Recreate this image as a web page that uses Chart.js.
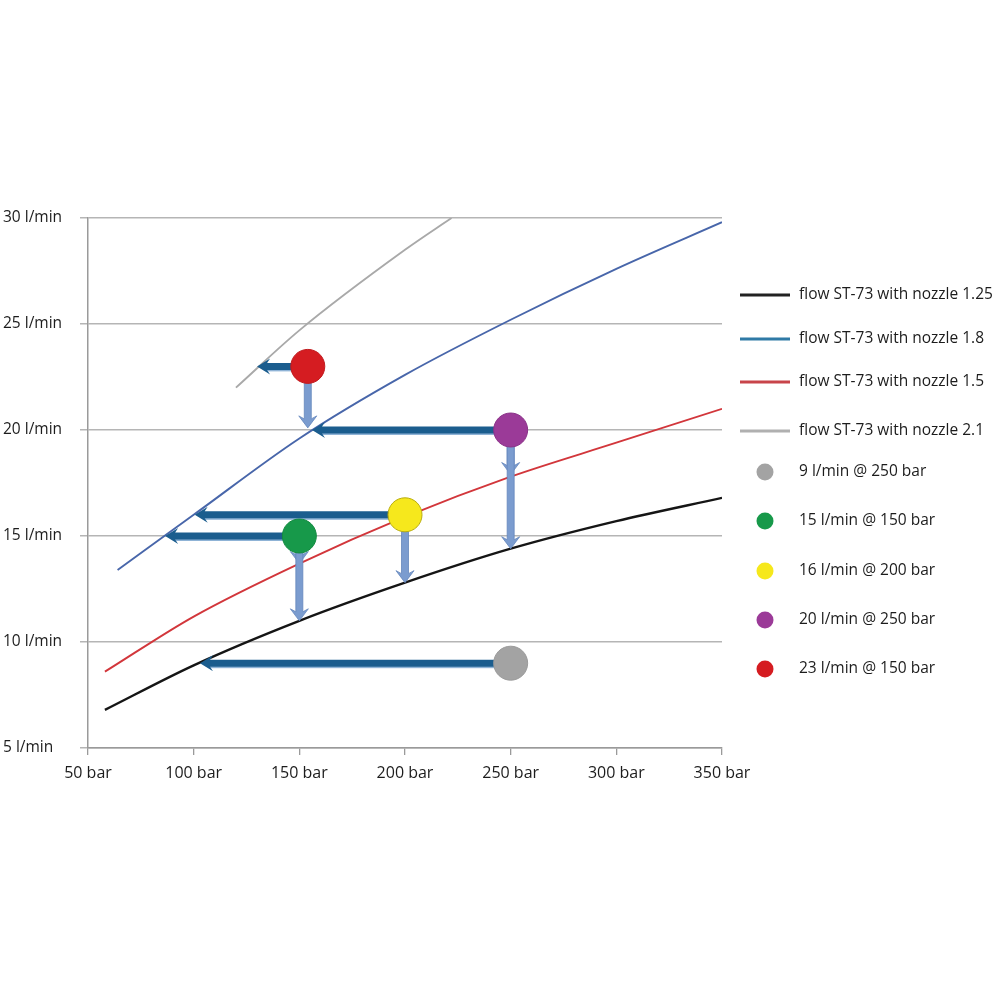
<!DOCTYPE html>
<html>
<head>
<meta charset="utf-8">
<script src="https://cdn.jsdelivr.net/npm/chart.js@4.4.0/dist/chart.umd.min.js"></script>
<style>
html,body{margin:0;padding:0;background:#fff;}
#wrap{width:1000px;height:1000px;}
</style>
</head>
<body>
<div id="wrap"><canvas id="c" width="1000" height="1000"></canvas></div>
<script>
// ---- data ----
const xTicks = [50, 100, 150, 200, 250, 300, 350];
const yTicks = [5, 10, 15, 20, 25, 30];

const nozzle125P = [58, 100, 150, 200, 250, 300, 350];
const nozzle125Q = [6.8, 8.9, 11.0, 12.8, 14.4, 15.7, 16.8];
const nozzle18P  = [64, 100, 150, 200, 250, 300, 350];
const nozzle18Q  = [13.4, 16.0, 19.6, 22.6, 25.2, 27.6, 29.8];
const nozzle15P  = [58, 100, 150, 200, 250, 300, 350];
const nozzle15Q  = [8.6, 11.2, 13.7, 15.9, 17.8, 19.4, 21.0];
const nozzle21P  = [120, 150, 200, 222];
const nozzle21Q  = [22.0, 24.7, 28.5, 30.0];

const pointLabels = ['9 l/min @ 250 bar', '15 l/min @ 150 bar', '16 l/min @ 200 bar', '20 l/min @ 250 bar', '23 l/min @ 150 bar'];
const pointP = [250, 150, 200, 250, 154];
const pointQ = [9, 15, 16, 20, 23];

// horizontal arrows: from operating point to curve (pressure at tip)
const hArrowFromP = [250, 150, 200, 250, 154];
const hArrowToP   = [103, 86.5, 100.5, 156, 130];
const hArrowQ     = [9, 15, 16, 20, 23];

// vertical arrows: at pressure, from flow down to flow
const vArrowP     = [154, 150, 150, 200, 250, 250];
const vArrowFromQ = [23, 15, 15, 16, 20, 20];
const vArrowToQ   = [20.1, 13.7, 11.0, 12.8, 17.9, 14.4];

const lineLabels = ['flow ST-73 with nozzle 1.25', 'flow ST-73 with nozzle 1.8', 'flow ST-73 with nozzle 1.5', 'flow ST-73 with nozzle 2.1'];

// ---- styles ----
const lineColors = ['#151515', '#4866aa', '#d2363b', '#a9a9a9'];
const legendLineColors = ['#222222', '#2f7aa6', '#c8444a', '#b0b0b0'];
const pointColors = ['#a3a3a3', '#17994a', '#f6e81c', '#9b3a98', '#d51c21'];
const pointBorders = ['#9a9a9a', '#138a40', '#b8ac10', '#8a3288', '#c01a1e'];

function zip(p, q) { return p.map((v, i) => ({x: v, y: q[i]})); }

const curveSets = [[nozzle125P, nozzle125Q], [nozzle18P, nozzle18Q], [nozzle15P, nozzle15Q], [nozzle21P, nozzle21Q]];
const datasets = [];
curveSets.forEach((c, i) => {
  datasets.push({
    label: lineLabels[i], data: zip(c[0], c[1]), showLine: true,
    borderColor: lineColors[i], borderWidth: i === 0 ? 2.4 : 1.9, pointRadius: 0,
    cubicInterpolationMode: 'monotone', fill: false, order: 1, isCurve: true
  });
});
pointP.forEach((p, i) => {
  datasets.push({
    label: pointLabels[i], data: [{x: p, y: pointQ[i]}], showLine: false,
    backgroundColor: pointColors[i], borderColor: pointBorders[i], borderWidth: 1,
    pointRadius: 17, pointHoverRadius: 17, order: 0, isPoint: true
  });
});

const FONT = '"Open Sans", "Noto Sans", sans-serif';
const TEXT = '#1c1c1c';

const arrowPlugin = {
  id: 'arrows',
  beforeDatasetsDraw() { this._done = false; },
  beforeDatasetDraw(chart, args) {
    if (this._done || !chart.data.datasets[args.index].isPoint) return;
    this._done = true;
    const ctx = chart.ctx, xs = chart.scales.x, ys = chart.scales.y;
    ctx.save();
    // vertical light-blue arrows
    vArrowP.forEach((p, i) => {
      const x = xs.getPixelForValue(p);
      const y0 = ys.getPixelForValue(vArrowFromQ[i]);
      const y1 = ys.getPixelForValue(vArrowToQ[i]);
      const hw = 3.5, headH = 12, headW = 9;
      ctx.fillStyle = '#7b9ccf';
      ctx.strokeStyle = '#6486bd';
      ctx.lineWidth = 0.8;
      ctx.beginPath();
      ctx.moveTo(x - hw, y0);
      ctx.lineTo(x + hw, y0);
      ctx.lineTo(x + hw, y1 - headH + 3);
      ctx.lineTo(x + headW, y1 - headH);
      ctx.lineTo(x, y1);
      ctx.lineTo(x - headW, y1 - headH);
      ctx.lineTo(x - hw, y1 - headH + 3);
      ctx.closePath();
      ctx.fill();
      ctx.stroke();
    });
    // horizontal dark-blue arrows
    hArrowFromP.forEach((p, i) => {
      const x0 = xs.getPixelForValue(p);
      const x1 = xs.getPixelForValue(hArrowToP[i]);
      const y = ys.getPixelForValue(hArrowQ[i]);
      const hh = 3.5, headL = 13, headW = 8;
      ctx.fillStyle = '#8fb3d6';
      ctx.fillRect(x1 + headL - 3, y + hh - 0.5, x0 - x1 - headL + 3, 2);
      ctx.fillStyle = '#1b5d8e';
      ctx.beginPath();
      ctx.moveTo(x0, y - hh);
      ctx.lineTo(x1 + headL - 3, y - hh);
      ctx.lineTo(x1 + headL, y - headW);
      ctx.lineTo(x1, y);
      ctx.lineTo(x1 + headL, y + headW);
      ctx.lineTo(x1 + headL - 3, y + hh);
      ctx.lineTo(x0, y + hh);
      ctx.closePath();
      ctx.fill();
    });
    ctx.restore();
  }
};

const legendPlugin = {
  id: 'customLegend',
  afterDraw(chart) {
    const ctx = chart.ctx;
    const ds = chart.data.datasets;
    const ysLine = [295, 339, 382, 431];
    const ysPt = [472, 521, 571, 620, 669];
    ctx.save();
    ctx.font = '15.5px ' + FONT;
    ctx.textBaseline = 'middle';
    ctx.textAlign = 'left';
    let li = 0, pi = 0;
    ds.forEach((d) => {
      if (d.isCurve) {
        const y = ysLine[li];
        ctx.strokeStyle = legendLineColors[li];
        ctx.lineWidth = 3;
        ctx.beginPath(); ctx.moveTo(740, y); ctx.lineTo(790, y); ctx.stroke();
        ctx.fillStyle = TEXT;
        ctx.fillText(d.label, 799, y);
        li++;
      } else {
        const y = ysPt[pi];
        ctx.fillStyle = d.backgroundColor;
        ctx.beginPath(); ctx.arc(765, y, 8.5, 0, Math.PI * 2); ctx.fill();
        ctx.fillStyle = TEXT;
        ctx.fillText(d.label, 799, y);
        pi++;
      }
    });
    ctx.restore();
  }
};

new Chart(document.getElementById('c'), {
  type: 'scatter',
  data: { datasets },
  options: {
    responsive: false,
    animation: false,
    events: [],
    layout: { padding: { left: 3, top: 218, right: 278, bottom: 212 } },
    plugins: { legend: { display: false }, tooltip: { enabled: false } },
    scales: {
      x: {
        type: 'linear', min: 50, max: 350,
        afterBuildTicks: s => { s.ticks = xTicks.map(v => ({value: v})); },
        afterFit: s => { s.height = 40; },
        ticks: { callback: v => v + ' bar', color: TEXT, font: { family: FONT, size: 16 }, padding: 9, maxRotation: 0 },
        grid: { drawOnChartArea: false, drawTicks: true, tickLength: 7, color: '#9a9a9a', lineWidth: 1.3 },
        border: { color: '#9a9a9a', width: 1.5 }
      },
      y: {
        type: 'linear', min: 5, max: 30,
        afterBuildTicks: s => { s.ticks = yTicks.map(v => ({value: v})); },
        afterFit: s => { s.width = 85; },
        ticks: { callback: v => v + ' l/min', color: TEXT, font: { family: FONT, size: 15.5 }, crossAlign: 'far', padding: 4 },
        grid: { color: '#b5b5b5', lineWidth: 1.5, drawTicks: true, tickLength: 8 },
        border: { color: '#9a9a9a', width: 1.5 }
      }
    }
  },
  plugins: [arrowPlugin, legendPlugin]
});
</script>
</body>
</html>
